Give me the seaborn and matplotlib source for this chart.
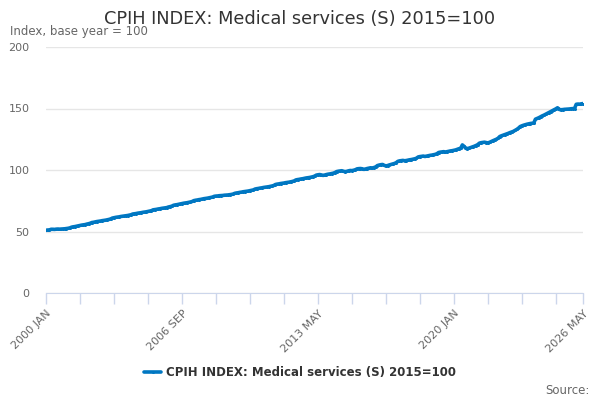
import numpy as np
import pandas as pd
import matplotlib
matplotlib.use("Agg")
import matplotlib.pyplot as plt
import seaborn as sns

sns.set_style("white")
plt.rcParams["font.family"] = ["DejaVu Sans"]

# monthly index values (2000 JAN .. 2026 MAY)
y2000 = [51.0, 51.2, 51.3, 51.8, 51.8, 51.7, 51.9, 52.0, 51.9, 52.0, 52.1, 52.2]
y2001 = [52.4, 52.6, 52.9, 53.5, 53.8, 54.0, 54.3, 54.6, 54.9, 55.2, 55.4, 55.6]
y2002 = [56.0, 56.3, 56.7, 57.3, 57.5, 57.8, 58.1, 58.3, 58.5, 58.8, 59.0, 59.2]
y2003 = [59.5, 59.8, 60.2, 60.9, 61.2, 61.5, 61.7, 61.9, 62.2, 62.4, 62.6, 62.8]
y2004 = [63.0, 63.3, 63.6, 64.2, 64.4, 64.6, 64.9, 65.1, 65.3, 65.6, 65.8, 66.0]
y2005 = [66.3, 66.6, 66.9, 67.6, 67.8, 68.0, 68.3, 68.5, 68.8, 69.0, 69.2, 69.4]
y2006 = [69.9, 70.2, 70.6, 71.3, 71.6, 71.8, 72.1, 72.4, 72.7, 73.0, 73.2, 73.4]
y2007 = [73.7, 74.0, 74.4, 75.1, 75.4, 75.6, 75.9, 76.1, 76.4, 76.7, 76.9, 77.1]
y2008 = [77.4, 77.7, 78.0, 78.6, 78.8, 78.9, 79.1, 79.2, 79.3, 79.5, 79.6, 79.7]
y2009 = [79.9, 80.1, 80.4, 81.0, 81.3, 81.5, 81.8, 82.0, 82.3, 82.5, 82.7, 82.9]
y2010 = [83.2, 83.5, 83.8, 84.5, 84.8, 85.0, 85.3, 85.5, 85.8, 86.0, 86.2, 86.4]
y2011 = [86.7, 87.0, 87.4, 88.2, 88.5, 88.7, 89.0, 89.2, 89.4, 89.7, 89.9, 90.1]
y2012 = [90.4, 90.7, 91.1, 91.9, 92.2, 92.4, 92.7, 92.9, 93.2, 93.5, 93.7, 93.9]
y2013 = [94.2, 94.5, 95.0, 95.8, 96.1, 96.3, 96.0, 95.6, 95.9, 96.3, 96.6, 96.8]
y2014 = [97.1, 97.4, 97.9, 98.7, 99.0, 99.2, 99.4, 99.0, 98.6, 98.9, 99.3, 99.6]
y2015 = [99.5, 99.8, 100.2, 100.9, 101.1, 101.2, 101.0, 100.5, 100.8, 101.2, 101.5, 101.8]
y2016 = [101.6, 102.0, 102.5, 103.6, 104.0, 104.3, 104.5, 103.8, 103.3, 103.6, 104.1, 104.5]
y2017 = [104.9, 105.3, 105.9, 107.0, 107.4, 107.6, 107.8, 107.5, 107.7, 108.0, 108.3, 108.5]
y2018 = [108.8, 109.1, 109.6, 110.6, 110.9, 111.1, 111.3, 111.0, 111.3, 111.6, 111.9, 112.1]
y2019 = [112.4, 112.7, 113.2, 114.2, 114.5, 114.7, 114.9, 114.6, 114.9, 115.2, 115.5, 115.7]
y2020 = [116.0, 116.3, 116.8, 117.3, 117.5, 120.4, 119.2, 117.6, 117.4, 117.8, 118.3, 118.8]
y2021 = [119.3, 119.9, 120.6, 121.8, 122.2, 122.4, 122.6, 122.3, 122.0, 122.5, 123.2, 123.8]
y2022 = [124.4, 125.0, 125.8, 127.2, 127.8, 128.3, 128.8, 129.3, 129.8, 130.4, 130.9, 131.4]
y2023 = [132.2, 133.0, 134.0, 135.3, 135.9, 136.4, 136.8, 137.2, 137.5, 137.8, 138.0, 138.2]
y2024 = [141.3, 141.9, 142.5, 143.3, 144.0, 144.6, 145.3, 146.0, 146.7, 147.5, 148.3, 149.0]
y2025 = [149.7, 150.6, 149.2, 149.0, 149.1, 149.3, 149.4, 149.5, 149.6, 149.8, 149.9, 150.0]
y2026 = [153.4, 153.6, 153.5, 153.8, 154.0]

years = [y2000, y2001, y2002, y2003, y2004, y2005, y2006, y2007, y2008, y2009,
         y2010, y2011, y2012, y2013, y2014, y2015, y2016, y2017, y2018, y2019,
         y2020, y2021, y2022, y2023, y2024, y2025, y2026]
values = [v for yr in years for v in yr]

tick_labels = ["2000 JAN", "2006 SEP", "2013 MAY", "2020 JAN", "2026 MAY"]
series_name = "CPIH INDEX: Medical services (S) 2015=100"

df = pd.DataFrame({"month": np.arange(len(values)), "value": values})

blue = "#0077c2"
grey = "#666666"

fig = plt.figure(figsize=(6, 4), dpi=100)
ax = fig.add_axes([0.0767, 0.2675, 0.895, 0.615])

sns.lineplot(ax=ax, data=df, x="month", y="value", color=blue, linewidth=2.6,
             marker="o", markersize=2.2, markeredgewidth=0, label=series_name)

last = len(values) - 1
ax.set_xlim(0, last)
ax.set_ylim(0, 200)
ax.set_yticks([0, 50, 100, 150, 200])
ax.yaxis.grid(True, color="#e6e6e6", linewidth=1)
ax.set_axisbelow(True)

# ticks every 20 months, labels every 80 plus the last month
minor = list(range(0, last, 20)) + [last]
ax.set_xticks(minor)
labels = [""] * len(minor)
for i, m in enumerate(minor):
    if m in (0, 80, 160, 240):
        labels[i] = tick_labels[m // 80]
labels[-1] = tick_labels[-1]
ax.set_xticklabels(labels, rotation=45, ha="right", rotation_mode="anchor")

ax.tick_params(axis="x", bottom=True, direction="out", length=8, width=1,
               color="#ccd6eb", labelsize=8, labelcolor=grey, pad=3)
ax.tick_params(axis="y", length=0, labelsize=8, labelcolor=grey, pad=12)

sns.despine(ax=ax, left=True, top=True, right=True)
ax.spines["bottom"].set_color("#ccd6eb")
ax.spines["bottom"].set_zorder(5)
ax.set_xlabel("")
ax.set_ylabel("")

fig.text(0.5, 0.952, series_name, ha="center", va="center", fontsize=12.8,
         color="#333333")
fig.text(0.017, 0.92, "Index, base year = 100", ha="left", va="center",
         fontsize=8.5, color=grey)

leg = ax.legend(loc="center", bbox_to_anchor=(0.5, 0.068),
                bbox_transform=fig.transFigure, frameon=False,
                prop={"weight": "bold", "size": 8.5}, handlelength=1.4,
                handletextpad=0.4)
for t in leg.get_texts():
    t.set_color("#333333")

fig.text(0.982, 0.025, "Source:", ha="right", va="center", fontsize=8.5,
         color=grey)

fig.savefig("out.png", dpi=100)
